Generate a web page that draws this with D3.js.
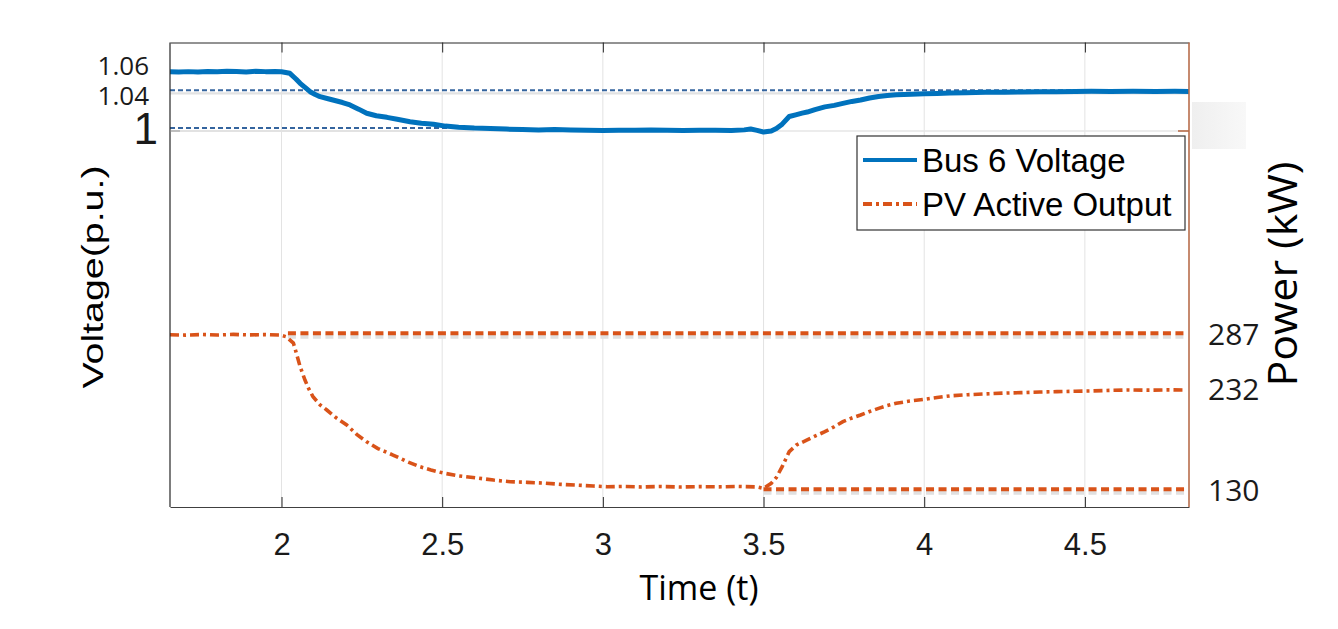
<!DOCTYPE html>
<html lang="en">
<head>
  <meta charset="UTF-8">
  <title>Bus 6 Voltage and PV Active Output</title>
  <style>
    body { margin: 0; background: #fff; }
    svg { display: block; }
    .tick text { font-family: Arial, "Liberation Sans", sans-serif; fill: #1a1a1a; }
  </style>
</head>
<body>
<svg id="chart" width="1338" height="629"></svg>

<script src="https://d3js.org/d3.v7.min.js"></script>
<script>
  // ticks and reference levels
  const timeTicks = [2, 2.5, 3, 3.5, 4, 4.5];
  const voltageTicks = [1.06, 1.04, 1];
  const powerTicks = [287, 232, 130];
  const voltageRefs = [1.04, 1];
  const powerRefs = [287, 130];

  // Bus 6 voltage (p.u.)
  const voltageTime = [1.653, 1.68, 1.71, 1.74, 1.77, 1.80, 1.83, 1.86, 1.89, 1.92, 1.95, 1.98, 2.00,
    2.026, 2.045, 2.058, 2.075, 2.089, 2.105, 2.12, 2.145, 2.172, 2.19, 2.213, 2.24, 2.265, 2.295,
    2.328, 2.36, 2.40, 2.435, 2.473, 2.51, 2.551, 2.60, 2.65, 2.70, 2.75, 2.80, 2.85, 2.90, 2.95,
    3.00, 3.05, 3.10, 3.15, 3.20, 3.25, 3.30, 3.35, 3.40, 3.44, 3.46, 3.48, 3.50, 3.524, 3.54,
    3.558, 3.58, 3.60, 3.62, 3.636, 3.66, 3.691, 3.72, 3.747, 3.775, 3.802, 3.83, 3.858, 3.885,
    3.913, 3.96, 4.0, 4.04, 4.08, 4.13, 4.19, 4.25, 4.30, 4.36, 4.41, 4.47, 4.52, 4.58, 4.65,
    4.72, 4.78, 4.824];
  const voltageValue = [1.0597, 1.0593, 1.0598, 1.0594, 1.0600, 1.0596, 1.0603, 1.0599, 1.0595,
    1.0601, 1.0598, 1.0600, 1.0597, 1.0580, 1.0520, 1.0474, 1.0425, 1.0385, 1.0355, 1.0332,
    1.0310, 1.0286, 1.0270, 1.0244, 1.0200, 1.0156, 1.0130, 1.0113, 1.0092, 1.0067, 1.0050,
    1.0039, 1.0020, 1.0007, 0.9999, 0.9995, 0.9988, 0.9984, 0.9980, 0.9983, 0.9979, 0.9976,
    0.9973, 0.9977, 0.9975, 0.9979, 0.9977, 0.9974, 0.9977, 0.9975, 0.9973, 0.9980, 0.9989,
    0.9975, 0.9957, 0.9968, 0.9995, 1.0041, 1.0122, 1.0140, 1.0158, 1.0169, 1.0195, 1.0224,
    1.0240, 1.0261, 1.0282, 1.0297, 1.0318, 1.0334, 1.0344, 1.0352, 1.0358, 1.0363, 1.0366,
    1.0370, 1.0374, 1.0378, 1.0380, 1.0381, 1.0384, 1.0385, 1.0387, 1.0389, 1.0388, 1.0389,
    1.0387, 1.0389, 1.0388];

  // PV active output (kW)
  const powerTime = [1.653, 1.70, 1.75, 1.80, 1.85, 1.90, 1.95, 1.995, 2.015, 2.037, 2.048, 2.058,
    2.073, 2.085, 2.098, 2.12, 2.141, 2.17, 2.203, 2.235, 2.265, 2.30, 2.347, 2.39, 2.431, 2.465,
    2.503, 2.55, 2.608, 2.66, 2.712, 2.765, 2.815, 2.87, 2.92, 2.97, 3.013, 3.06, 3.12, 3.18, 3.24,
    3.30, 3.36, 3.42, 3.48, 3.50, 3.524, 3.54, 3.558, 3.58, 3.602, 3.636, 3.66, 3.691, 3.72, 3.747,
    3.775, 3.802, 3.83, 3.858, 3.885, 3.913, 3.955, 4.0, 4.04, 4.08, 4.135, 4.191, 4.245, 4.302,
    4.36, 4.413, 4.47, 4.524, 4.58, 4.636, 4.70, 4.76, 4.813];
  const powerValue = [285.5, 285.2, 285.8, 285.3, 285.9, 285.4, 285.7, 285.3, 283.5, 277.2, 265,
    253.4, 240, 231, 223.2, 215, 209.8, 202, 194.7, 185, 177.9, 171, 164.5, 158, 152.7, 149.5,
    146.4, 143.6, 141.4, 139.3, 137.6, 137, 136.3, 135, 134.2, 133.3, 132.6, 132.9, 132.4, 132.8,
    132.3, 132.7, 132.5, 132.9, 132.4, 131, 136, 142, 152.8, 167.9, 174.6, 179.7, 183.5, 188, 193,
    198.1, 201.8, 204.8, 208.3, 211.5, 214.3, 216.6, 218.8, 220.6, 222.4, 224, 225.2, 226, 226.8,
    227.3, 227.9, 228.3, 228.7, 229, 229.6, 230, 229.8, 230.1, 230];

  const blue = "#0072bd";
  const orange = "#d95319";
  const plotLeft = 170, plotRight = 1189, plotTop = 42.5, plotBottom = 507;

  const svg = d3.select("#chart");

  const x = d3.scaleLinear().domain([1.653, 4.824]).range([plotLeft, plotRight]);
  const yV = d3.scaleLinear().domain([0.5979, 1.0907]).range([plotBottom, plotTop]);
  const yP = d3.scaleLinear().domain([112.2, 579.7]).range([plotBottom, plotTop]);

  const defs = svg.append("defs");
  defs.append("clipPath").attr("id", "plot")
    .append("rect").attr("x", plotLeft).attr("y", plotTop)
    .attr("width", plotRight - plotLeft).attr("height", plotBottom - plotTop);

  // faint box sticking out at the right
  const grad = defs.append("linearGradient").attr("id", "fade");
  grad.append("stop").attr("offset", "0%").attr("stop-color", "#efefef");
  grad.append("stop").attr("offset", "100%").attr("stop-color", "#f8f8f8");
  svg.append("rect").attr("x", 1192).attr("y", 102).attr("width", 54).attr("height", 47)
    .attr("fill", "url(#fade)");

  // vertical grid
  svg.append("g").selectAll("line").data(timeTicks).join("line")
    .attr("x1", d => x(d)).attr("x2", d => x(d))
    .attr("y1", plotTop).attr("y2", plotBottom)
    .attr("stroke", "#e3e3e3").attr("stroke-width", 1);

  // horizontal grid at 1 p.u. (sits just under the dashed reference)
  svg.append("line")
    .attr("x1", plotLeft).attr("x2", plotRight)
    .attr("y1", yV(1) + 3).attr("y2", yV(1) + 3)
    .attr("stroke", "#e6e6e6").attr("stroke-width", 1.6);

  const plot = svg.append("g").attr("clip-path", "url(#plot)");

  // voltage reference lines with their grey shadows
  const vRefEnd = { 1.04: 4.824, 1: 2.6 };
  voltageRefs.forEach(v => {
    plot.append("line")
      .attr("x1", plotLeft).attr("x2", x(vRefEnd[v]))
      .attr("y1", yV(v) + 3).attr("y2", yV(v) + 3)
      .attr("stroke", "#e2e2e2").attr("stroke-width", 2.2);
    plot.append("line")
      .attr("x1", plotLeft).attr("x2", x(vRefEnd[v]))
      .attr("y1", yV(v)).attr("y2", yV(v))
      .attr("stroke", "#34649e").attr("stroke-width", 2)
      .attr("stroke-dasharray", "5,3");
  });

  // power reference lines
  const pRefStart = { 287: 2.02, 130: 3.5 };
  powerRefs.forEach(p => {
    plot.append("line")
      .attr("x1", x(pRefStart[p])).attr("x2", plotRight - 4)
      .attr("y1", yP(p) + 3.5).attr("y2", yP(p) + 3.5)
      .attr("stroke", "#e0e0e0").attr("stroke-width", 4)
      .attr("stroke-dasharray", "8,4.5");
    plot.append("line")
      .attr("x1", x(pRefStart[p])).attr("x2", plotRight - 4)
      .attr("y1", yP(p)).attr("y2", yP(p))
      .attr("stroke", orange).attr("stroke-width", 4)
      .attr("stroke-dasharray", "8,4.5");
  });

  // series
  const vLine = d3.line().x(d => x(d[0])).y(d => yV(d[1]));
  const pLine = d3.line().x(d => x(d[0])).y(d => yP(d[1]));

  plot.append("path")
    .datum(powerTime.map((t, i) => [t, powerValue[i]]))
    .attr("d", pLine)
    .attr("fill", "none").attr("stroke", orange).attr("stroke-width", 3.6)
    .attr("stroke-dasharray", "9,4,3,4");

  plot.append("path")
    .datum(voltageTime.map((t, i) => [t, voltageValue[i]]))
    .attr("d", vLine)
    .attr("fill", "none").attr("stroke", blue).attr("stroke-width", 5)
    .attr("stroke-linejoin", "round");

  // box axes
  const bottomAxis = svg.append("g")
    .attr("transform", `translate(0,${plotBottom})`)
    .call(d3.axisBottom(x).tickValues(timeTicks).tickSizeInner(-10).tickSizeOuter(0)
      .tickPadding(26).tickFormat(d3.format("")));
  bottomAxis.select(".domain").attr("stroke", "#404040");
  bottomAxis.selectAll(".tick line").attr("stroke", "#262626");
  bottomAxis.selectAll(".tick text").attr("font-size", 31);

  const topAxis = svg.append("g")
    .attr("transform", `translate(0,${plotTop})`)
    .call(d3.axisTop(x).tickValues(timeTicks).tickSizeInner(-10).tickSizeOuter(0).tickFormat(""));
  topAxis.select(".domain").attr("stroke", "#262626");
  topAxis.selectAll(".tick line").attr("stroke", "#262626");

  svg.append("line").attr("x1", plotLeft).attr("x2", plotLeft).attr("y1", plotTop).attr("y2", plotBottom)
    .attr("stroke", "#262626").attr("stroke-width", 1.2);
  svg.append("line").attr("x1", plotLeft).attr("x2", plotLeft + 10)
    .attr("y1", yV(1) + 3).attr("y2", yV(1) + 3).attr("stroke", "#9a9a9a");

  svg.append("line").attr("x1", plotRight).attr("x2", plotRight).attr("y1", plotTop).attr("y2", plotBottom)
    .attr("stroke", "#b86d4b").attr("stroke-width", 1.6);
  svg.append("line").attr("x1", plotRight - 11).attr("x2", plotRight)
    .attr("y1", yV(1) + 3).attr("y2", yV(1) + 3).attr("stroke", "#b86d4b").attr("stroke-width", 1.6);

  // voltage tick labels (baseline offsets from the scale position)
  const vLabelBase = { 1.06: 4, 1.04: 14.5, 1: 16 };
  svg.append("g").selectAll("text").data(voltageTicks).join("text")
    .attr("x", d => d === 1 ? 158 : 149)
    .attr("y", d => yV(d) + vLabelBase[d])
    .attr("text-anchor", "end")
    .attr("font-family", d => d === 1 ? "Arial, 'Liberation Sans', sans-serif" : "'Open Sans', sans-serif")
    .attr("font-size", d => d === 1 ? 44 : 26)
    .attr("fill", "#1a1a1a")
    .text(d => d3.format("")(d));

  // power tick labels
  svg.append("g").selectAll("text").data(powerTicks).join("text")
    .attr("x", 1208)
    .attr("y", d => yP(d) + 12)
    .attr("font-family", "'Open Sans', sans-serif")
    .attr("font-size", 30)
    .attr("fill", "#1a1a1a")
    .text(d => d);

  // axis titles
  svg.append("text")
    .attr("transform", "translate(103,277) rotate(-90)")
    .attr("text-anchor", "middle")
    .attr("font-family", "Arial, 'Liberation Sans', sans-serif")
    .attr("font-size", 30)
    .attr("textLength", 223).attr("lengthAdjust", "spacingAndGlyphs")
    .attr("fill", "#000")
    .text("Voltage(p.u.)");

  svg.append("text")
    .attr("transform", "translate(1297,274) rotate(-90)")
    .attr("text-anchor", "middle")
    .attr("font-family", "'Open Sans', sans-serif")
    .attr("font-size", 41)
    .attr("textLength", 225).attr("lengthAdjust", "spacingAndGlyphs")
    .attr("fill", "#000")
    .text("Power (kW)");

  svg.append("text")
    .attr("x", 699).attr("y", 600)
    .attr("text-anchor", "middle")
    .attr("font-family", "'Open Sans', sans-serif")
    .attr("font-size", 34)
    .attr("fill", "#000")
    .text("Time (t)");

  // legend
  const legend = svg.append("g");
  legend.append("rect")
    .attr("x", 857).attr("y", 136).attr("width", 328).attr("height", 94)
    .attr("fill", "#fff").attr("stroke", "#333").attr("stroke-width", 1.2);

  const legendItems = [
    { name: "Bus 6 Voltage", color: blue, dash: null, y: 160 },
    { name: "PV Active Output", color: orange, dash: "9,4,3,4", y: 204 }
  ];
  legendItems.forEach(d => {
    legend.append("line")
      .attr("x1", 863).attr("x2", 917).attr("y1", d.y).attr("y2", d.y)
      .attr("stroke", d.color).attr("stroke-width", 4)
      .attr("stroke-dasharray", d.dash);
    legend.append("text")
      .attr("x", 922).attr("y", d.y + 12)
      .attr("font-family", "Arial, 'Liberation Sans', sans-serif")
      .attr("font-size", 33)
      .attr("fill", "#000")
      .text(d.name);
  });
</script>
</body>
</html>
